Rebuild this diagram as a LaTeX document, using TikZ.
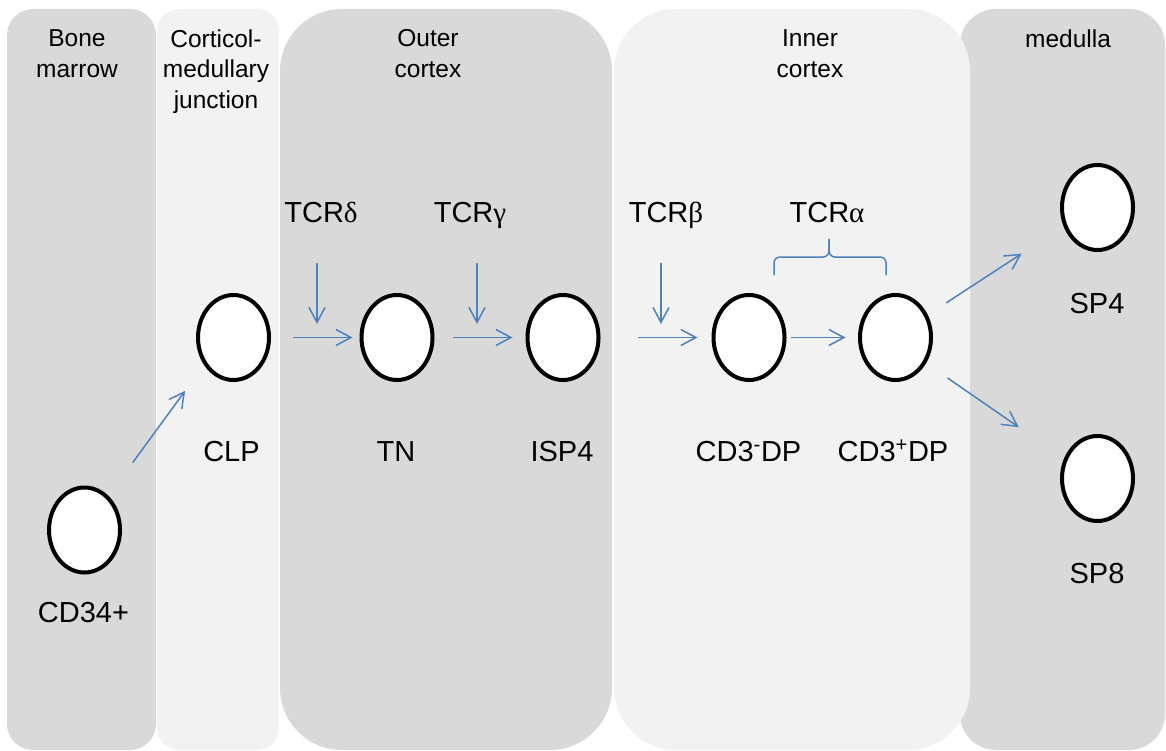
\documentclass[tikz,border=0pt]{standalone}
\usepackage{fontspec}
\setmainfont{Liberation Sans}
\newfontfamily\grk{Liberation Serif}
\usetikzlibrary{shapes.geometric,arrows.meta}
\definecolor{darkpanel}{HTML}{D9D9D9}
\definecolor{lightpanel}{HTML}{F2F2F2}
\definecolor{arrblue}{HTML}{4F81BD}
\begin{document}
\begin{tikzpicture}[x=1pt,y=-1pt,
  cell/.style={ellipse, draw=black, line width=4pt, fill=white, minimum width=71pt, minimum height=85pt, inner sep=0pt},
  lbl/.style={font=\fontsize{29}{34}\selectfont, anchor=base, inner sep=0pt},
  hdr/.style={font=\fontsize{24.5}{30.5}\selectfont, align=center, anchor=north, inner sep=0pt},
  arr/.style={draw=arrblue, line width=1.5pt, -{Straight Barb[length=15pt,width=16pt]}},
  bracestyle/.style={draw=arrblue, line width=1.5pt, rounded corners=6pt},
]
\useasboundingbox (0,0) rectangle (1166,751);
% panels
\fill[darkpanel, rounded corners=26pt] (7,9) rectangle (156,750);
\fill[lightpanel, rounded corners=22pt] (157,9) rectangle (279,750);
\fill[darkpanel, rounded corners=62pt] (280,9) rectangle (612,750);
\fill[darkpanel, rounded corners=36pt] (960,9) rectangle (1165,750);
\fill[lightpanel, rounded corners=62pt] (614,9) rectangle (970,750);
% headers
\node[hdr] (hbm) at (77,29.5) {Bone\\marrow};
\node[hdr] (hcmj) at (216,29.5) {Corticol-\\medullary\\junction};
\node[hdr] (hoc) at (428,29.5) {Outer\\cortex};
\node[hdr] (hic) at (810,29.5) {Inner\\cortex};
\node[hdr] (hmed) at (1068,29.5) {medulla};
% cells
\node[cell] (cd34) at (84.5,530) {};
\node[cell] (clp) at (233.5,337.5) {};
\node[cell] (tn) at (397,337.5) {};
\node[cell] (isp4) at (563,337.5) {};
\node[cell] (dp1) at (749,337.5) {};
\node[cell] (dp2) at (895.5,337.5) {};
\node[cell] (sp4) at (1097.5,207.5) {};
\node[cell] (sp8) at (1097.5,478.5) {};
% cell labels
\node[lbl] (lcd34) at (83.5,622) {CD34+};
\node[lbl] (lclp) at (231.5,461) {CLP};
\node[lbl] (ltn) at (396,461) {TN};
\node[lbl] (lisp4) at (562,461) {ISP4};
\node[lbl] (ldp1) at (748.5,461) {CD3\textsuperscript{-}DP};
\node[lbl] (ldp2) at (893,461) {CD3\textsuperscript{+}DP};
\node[lbl] (lsp4) at (1097,313) {SP4};
\node[lbl] (lsp8) at (1097,583) {SP8};
% TCR labels
\node[lbl] (tcrd) at (321,223) {TCR{\grk δ}};
\node[lbl] (tcrg) at (470,223) {TCR{\grk γ}};
\node[lbl] (tcrb) at (666,223) {TCR{\grk β}};
\node[lbl] (tcra) at (827,223) {TCR{\grk α}};
% down arrow ends
\coordinate (ds1) at (317,263); \coordinate (de1) at (317,324);
\coordinate (ds2) at (477,263); \coordinate (de2) at (477,324);
\coordinate (ds3) at (661,263); \coordinate (de3) at (661,324);
\draw[arr] (ds1) -- (de1);
\draw[arr] (ds2) -- (de2);
\draw[arr] (ds3) -- (de3);
% horizontal arrows
\draw[arr, shorten <=21.5pt, shorten >=7pt] (clp) -- (tn);
\draw[arr, shorten <=18pt, shorten >=13pt] (tn) -- (isp4);
\draw[arr, shorten <=37pt, shorten >=14pt] (isp4) -- (dp1);
\draw[arr, shorten <=4pt, shorten >=12.5pt] (dp1) -- (dp2);
% diagonal arrows
\draw[arr, shorten <=41pt, shorten >=32pt] (cd34.55) -- (clp.223);
\draw[arr, shorten <=22pt, shorten >=50pt] (dp2.35) -- (sp4.209);
\draw[arr, shorten <=26pt, shorten >=55pt] (dp2.320) -- (sp8.149);
% brace for TCR alpha
\coordinate (bl) at (774,275); \coordinate (bt) at (829,239); \coordinate (br) at (886,275);
\draw[bracestyle] (bl) -- (774,257) -- (829,257) -- (bt);
\draw[bracestyle] (bt) -- (829,257) -- (886,257) -- (br);
\end{tikzpicture}
\end{document}
